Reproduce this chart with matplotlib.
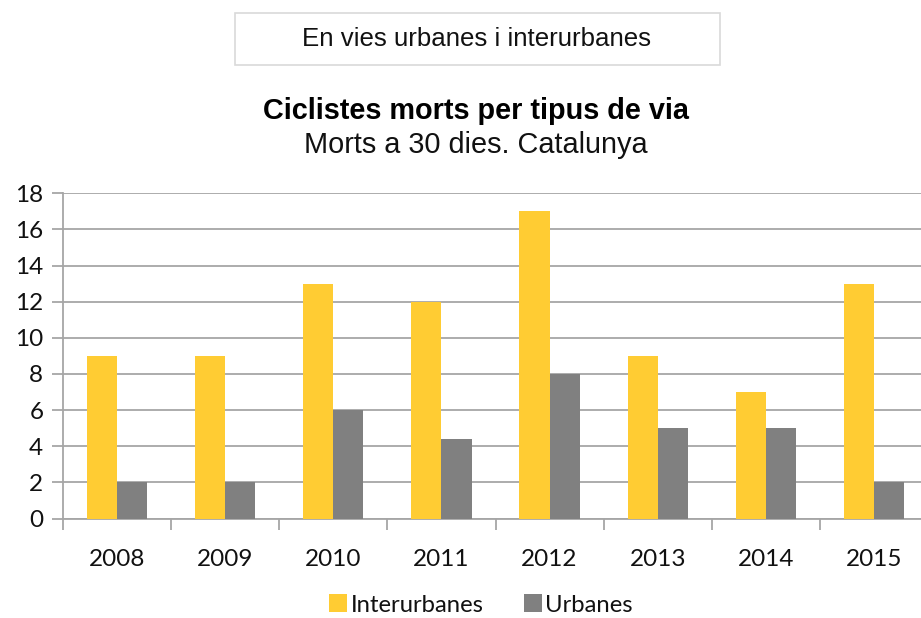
import matplotlib
matplotlib.use("Agg")
import matplotlib.pyplot as plt
import numpy as np
from matplotlib.patches import Rectangle
from matplotlib.ticker import FixedLocator

years = ["2008", "2009", "2010", "2011", "2012", "2013", "2014", "2015"]
interurbanes = [9, 9, 13, 12, 17, 9, 7, 13]
urbanes = [2, 2, 6, 4.4, 8, 5, 5, 2]
yticks = [0, 2, 4, 6, 8, 10, 12, 14, 16, 18]

W, H = 921, 618
fig = plt.figure(figsize=(W / 100, H / 100), dpi=100)
fig.patch.set_facecolor("white")

# Header box
fig.patches.append(Rectangle((235 / W, 1 - 65 / H), (720 - 235) / W, (65 - 13) / H,
                             transform=fig.transFigure, facecolor="white",
                             edgecolor="#D9D9D9", linewidth=1.2))
fig.text(476 / W, 1 - 39 / H, "En vies urbanes i interurbanes", ha="center", va="center",
         fontsize=18.6, family="Liberation Sans", color="#111111")
fig.text(476 / W, 1 - 111 / H, "Ciclistes morts per tipus de via", ha="center", va="center",
         fontsize=20.8, fontweight="bold", family="Liberation Sans", color="black")
fig.text(476 / W, 1 - 145 / H, "Morts a 30 dies. Catalunya", ha="center", va="center",
         fontsize=20.8, family="Liberation Sans", color="#111111")

left_px, right_px, top_px, bot_px = 62.7, 921, 193.3, 518.5
cat_w = 108.2
ax = fig.add_axes([left_px / W, 1 - bot_px / H, (right_px - left_px) / W, (bot_px - top_px) / H])
x = np.arange(len(years))
bw = 0.28
ax.bar(x - bw / 2, interurbanes, width=bw, color="#FFCC33", label="Interurbanes", zorder=3)
ax.bar(x + bw / 2, urbanes, width=bw, color="#808080", label="Urbanes", zorder=3)

ax.set_xlim(-0.5, -0.5 + (right_px - left_px) / cat_w)
ax.set_ylim(0, 18)
ax.set_yticks(yticks)
ax.set_yticklabels([str(v) for v in yticks], family="Lato", fontsize=17.5, color="#111111")
ax.yaxis.grid(True, color="#A6A6A6", linewidth=1.3, zorder=0)
ax.set_xticks(x)
ax.set_xticklabels(years, family="Lato", fontsize=17.5, color="#111111")
ax.tick_params(axis="x", length=0, pad=22)
ax.xaxis.set_minor_locator(FixedLocator(np.arange(-0.5, 8, 1.0)))
ax.tick_params(axis="x", which="minor", length=8, width=1.3, color="#A6A6A6", direction="out")
ax.tick_params(axis="y", length=8, width=1.3, color="#A6A6A6", pad=6)
for s in ["top", "right"]:
    ax.spines[s].set_visible(False)
for s in ["left", "bottom"]:
    ax.spines[s].set_color("#A6A6A6")
    ax.spines[s].set_linewidth(1.3)

leg = fig.legend(loc="center", bbox_to_anchor=(481 / W, 1 - 605 / H), ncol=2, frameon=False,
                 prop={"family": "Lato", "size": 17.2}, handlelength=0.75, handleheight=0.75,
                 handletextpad=0.15, columnspacing=1.7, borderpad=0.1)
for t in leg.get_texts():
    t.set_color("#111111")

fig.savefig("out.png", dpi=100, facecolor="white")
